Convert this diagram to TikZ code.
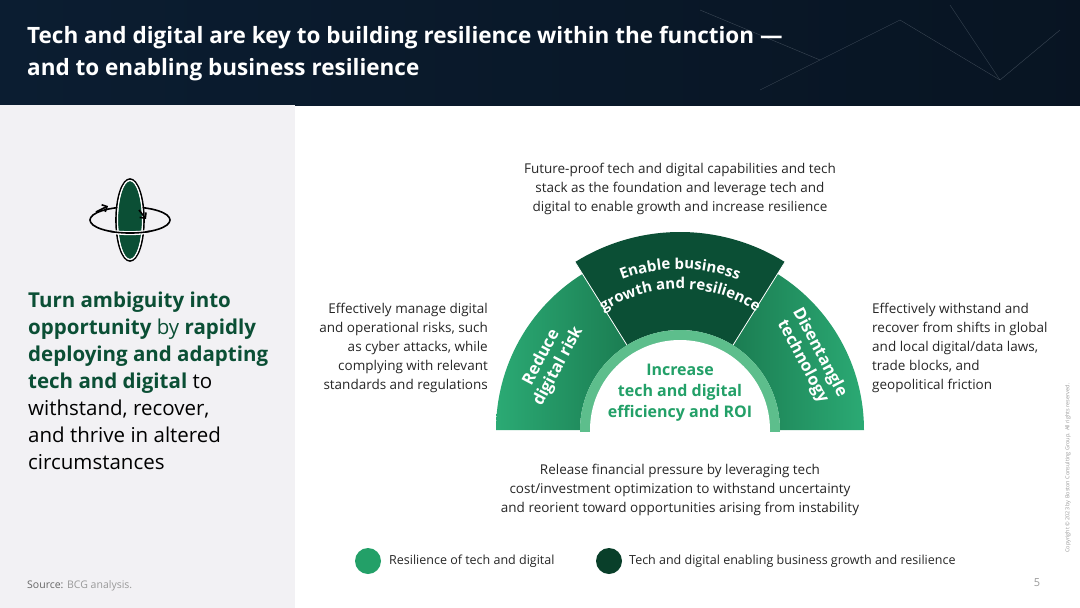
\documentclass[tikz,border=0pt]{standalone}
\usepackage{fontspec}
\setmainfont{Open Sans}
\usetikzlibrary{decorations.text,arrows.meta,calc}
\definecolor{navy}{HTML}{0B1D31}
\definecolor{panel}{HTML}{F2F1F4}
\definecolor{dkg}{HTML}{0B4F35}
\definecolor{mdg}{HTML}{1B7D52}
\definecolor{ltg}{HTML}{2BAA74}
\definecolor{ring}{HTML}{5DBE8C}
\definecolor{txg}{HTML}{23A068}
\definecolor{gry}{HTML}{999999}
\tikzset{body/.style={font=\fontsize{13.5}{19}\selectfont, text=black!85, inner sep=0pt},
 segtext/.style={font=\fontsize{16.5}{19}\selectfont\bfseries, text=white, align=center, inner sep=0pt}}
\begin{document}
\begin{tikzpicture}[x=1pt,y=-1pt]
\useasboundingbox (0,0) rectangle (1080,608);
\fill[white] (0,0) rectangle (1080,608);
\shade[left color=navy, right color=navy!70!black] (0,0) rectangle (1080,105);
\foreach \a/\b/\c/\d in {700/10/820/60, 820/60/900/20, 900/20/1000/80, 1000/80/1060/30, 760/90/820/60, 950/5/1000/80}
  \draw[white!40!navy, opacity=0.5, line width=0.4pt] (\a,\b) -- (\c,\d);
\node[anchor=west, text=white, font=\fontsize{22.5}{32}\selectfont\bfseries, align=left, inner sep=0pt] (title) at (27,54) {Tech and digital are key to building resilience within the function —\\and to enabling business resilience};
\fill[panel] (0,105) rectangle (295,608);
% icon
\draw[black, line width=1.6pt] (130,220) ellipse [x radius=40, y radius=13];
\fill[dkg] (130,220) ellipse [x radius=12, y radius=39];
\draw[black, line width=1.6pt] (130,220) ellipse [x radius=14, y radius=41];
\draw[white, line width=1.2pt] (130,220) ellipse [x radius=12.5, y radius=39.5];
\draw[white, line width=4pt] (130,220) ++(-16,12.2) arc[start angle=112, end angle=68, x radius=42, y radius=13];
\draw[black, line width=1.6pt] (130,220) ++(-20,11.3) arc[start angle=120, end angle=60, x radius=40, y radius=13];
\fill[panel] (100,205) circle (3);
\draw[black, line width=1.6pt, -{Straight Barb[length=4pt]}] (96,212) -- (108,206);
\draw[black, line width=1.6pt, -{Straight Barb[length=4pt]}] (139,210) -- (146,219);
\node[anchor=north west, align=left, inner sep=0pt, font=\fontsize{20.5}{27}\selectfont, text=black] (lefttext) at (28,292) {\textcolor{dkg}{\textbf{Turn ambiguity into}}\\\textcolor{dkg}{\textbf{opportunity} by \textbf{rapidly}}\\\textcolor{dkg}{\textbf{deploying and adapting}}\\\textcolor{dkg}{\textbf{tech and digital}} to\\withstand, recover,\\and thrive in altered\\circumstances};
\node[anchor=west, inner sep=0pt, font=\fontsize{10.5}{12}\selectfont, text=gry] (src) at (27,586) {\textcolor{black!60}{Source:} BCG analysis.};
% diagram
\coordinate (c) at (680,430);
\begin{scope}
\clip (480,230) rectangle (880,431);
\shade[left color=ltg, right color=mdg] ($(c)+(-180:184)$) arc[start angle=-180, end angle=-122, radius=184] -- ($(c)+(-122:100)$) arc[start angle=-122,end angle=-180,radius=100] -- cycle;
\shade[left color=mdg, right color=ltg] ($(c)+(-58:184)$) arc[start angle=-58, end angle=0, radius=184] -- ($(c)+(0:100)$) arc[start angle=0,end angle=-58,radius=100] -- cycle;
\fill[dkg] ($(c)+(-122:198)$) arc[start angle=-122, end angle=-58, radius=198] -- ($(c)+(-58:100)$) arc[start angle=-58,end angle=-122,radius=100] -- cycle;
\draw[white, line width=0.8pt] ($(c)+(-122:100)$) -- ($(c)+(-122:198)$);
\draw[white, line width=0.8pt] ($(c)+(-58:100)$) -- ($(c)+(-58:198)$);
\fill[ring] (c) circle (100);
\fill[white] (c) circle (90);
\end{scope}
\path[decorate, decoration={text along path, text align=center, text={|\fontsize{15}{17}\selectfont\bfseries\color{white}|Enable business}}] ($(c)+(-124:161)$) arc[start angle=-124, end angle=-56, radius=161];
\path[decorate, decoration={text along path, text align=center, text={|\fontsize{15}{17}\selectfont\bfseries\color{white}|growth and resilience}}] ($(c)+(-130:141)$) arc[start angle=-130, end angle=-50, radius=141];
\node[segtext, rotate=62] (reduce) at (550,362) {Reduce\\digital risk};
\node[segtext, rotate=-62] (dis) at (811,357) {Disentangle\\technology};
\node[font=\fontsize{16}{21}\selectfont\bfseries, text=txg, align=center, inner sep=0pt] (inc) at (680,393) {Increase\\tech and digital\\efficiency and ROI};
% text blocks
\node[body, align=center] (top) at (680,189) {Future-proof tech and digital capabilities and tech\\stack as the foundation and leverage tech and\\digital to enable growth and increase resilience};
\node[body, align=right, anchor=east] (lft) at (488,348) {Effectively manage digital\\and operational risks, such\\as cyber attacks, while\\complying with relevant\\standards and regulations};
\node[body, align=left, anchor=west] (rgt) at (872,348) {Effectively withstand and\\recover from shifts in global\\and local digital/data laws,\\trade blocks, and\\geopolitical friction};
\node[body, align=center] (bot) at (680,490) {Release financial pressure by leveraging tech\\cost/investment optimization to withstand uncertainty\\and reorient toward opportunities arising from instability};
% legend
\fill[txg] (368,561) circle (13);
\node[body, anchor=west, font=\fontsize{12.5}{14}\selectfont] (l1) at (389,561) {Resilience of tech and digital};
\fill[dkg!80!black] (609,561) circle (13);
\node[body, anchor=west, font=\fontsize{12.5}{14}\selectfont] (l2) at (629,561) {Tech and digital enabling business growth and resilience};
\node[inner sep=0pt, font=\fontsize{11}{12}\selectfont, text=gry] (pg) at (1037,583) {5};
\node[inner sep=0pt, rotate=90, font=\fontsize{5.5}{6}\selectfont, text=gry] (copy) at (1068,468) {Copyright © 2023 by Boston Consulting Group. All rights reserved.};
\end{tikzpicture}
\end{document}
